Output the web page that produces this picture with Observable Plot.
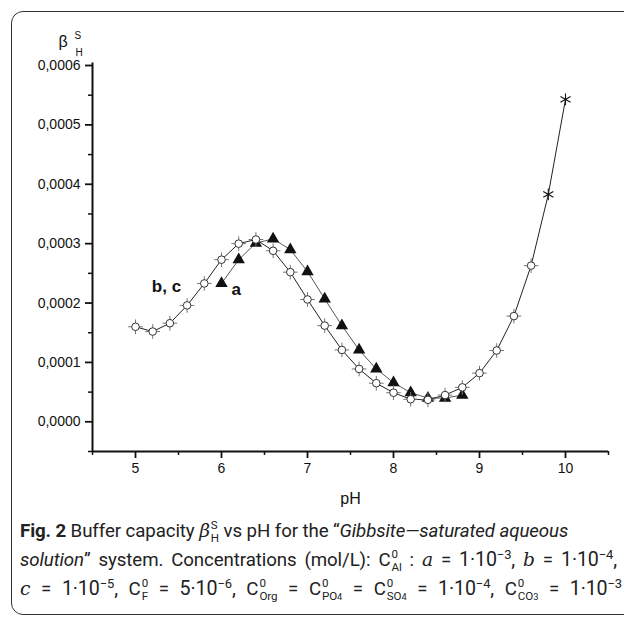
<!DOCTYPE html>
<html>
<head>
<meta charset="utf-8">
<script src="https://cdn.jsdelivr.net/npm/d3@7"></script>
<script src="https://cdn.jsdelivr.net/npm/@observablehq/plot@0.6"></script>
<style>
  html, body { margin: 0; padding: 0; background: #fff; overflow: hidden; }
  #wrap { position: relative; width: 624px; height: 620px; overflow: hidden; }
  #frame { position: absolute; left: 11px; top: 11px; width: 700px; height: 604px;
           border: 1.5px solid #333; border-radius: 12px; box-sizing: border-box; }
  #chart { position: absolute; left: 0; top: 0; }
  #caption { position: absolute; left: 20px; top: 516px; font-family: Roboto, sans-serif;
             font-size: 18.7px; line-height: 29px; color: #222; white-space: nowrap; letter-spacing: -0.1px; }
  #caption > div { height: 29px; }
  #l2 { width: 597px; text-align: justify; text-align-last: justify; white-space: normal; }
  #l3 { width: 602px; text-align: justify; text-align-last: justify; white-space: normal; }
  #caption b { font-weight: bold; }
  .m { font-family: "DejaVu Serif", "Liberation Serif", serif; font-style: italic; }
  .ss { display: inline-block; vertical-align: -0.45em; font-size: 0.62em; text-align: left; text-align-last: left; margin-left: 1px; }
  .ss > span { display: block; line-height: 1.1em; }
  sup { font-size: 0.66em; vertical-align: 0.55em; line-height: 0; }
  .s4 { font-size: 0.8em; display: inline; }
  .nw { white-space: nowrap; }
  .big { font-size: 1.05em; }
</style>
</head>
<body>
<div id="wrap">
  <div id="frame"></div>
  <div id="chart"></div>
  <div id="caption">
    <div id="l1"><b>Fig. 2</b> Buffer capacity <span class="m">β</span><span class="ss"><span>S</span><span>H</span></span> vs pH for the “<i>Gibbsite—saturated aqueous</i></div>
    <div id="l2"><i>solution</i>” system. Concentrations (mol/L): <span class="nw">C<span class="ss"><span>0</span><span>Al</span></span></span> : <span class="m">a</span> = <span class="nw big">1·10<sup>−3</sup>,</span> <span class="m">b</span> = <span class="nw big">1·10<sup>−4</sup>,</span></div>
    <div id="l3"><span class="m">c</span> = <span class="nw big">1·10<sup>−5</sup>,</span> <span class="nw">C<span class="ss"><span>0</span><span>F</span></span></span> = <span class="nw big">5·10<sup>−6</sup>,</span> <span class="nw">C<span class="ss"><span>0</span><span>Org</span></span></span> = <span class="nw">C<span class="ss"><span>0</span><span>PO<span class="s4">4</span></span></span></span> = <span class="nw">C<span class="ss"><span>0</span><span>SO<span class="s4">4</span></span></span></span> = <span class="nw big">1·10<sup>−4</sup>,</span> <span class="nw">C<span class="ss"><span>0</span><span>CO<span class="s4">3</span></span></span></span> = <span class="nw big">1·10<sup>−3</sup></span></div>
  </div>
</div>
<script>
// Series b, c (open circles, asterisks at the end)
const phBC = [5.0, 5.2, 5.4, 5.6, 5.8, 6.0, 6.2, 6.4, 6.6, 6.8, 7.0, 7.2, 7.4, 7.6, 7.8, 8.0, 8.2, 8.4, 8.6, 8.8, 9.0, 9.2, 9.4, 9.6, 9.8, 10.0];
const betaBC = [0.000160, 0.000152, 0.000166, 0.000196, 0.000233, 0.000273, 0.000300, 0.000307, 0.000288, 0.000252,
                0.000206, 0.000162, 0.000121, 0.000089, 0.000065, 0.000049, 0.000038, 0.000037, 0.000045, 0.000058,
                0.000082, 0.000120, 0.000178, 0.000263, 0.000383, 0.000543];
const markerBC = ["circle","circle","circle","circle","circle","circle","circle","circle","circle","circle",
                  "circle","circle","circle","circle","circle","circle","circle","circle","circle","circle",
                  "circle","circle","circle","circle","asterisk","asterisk"];
// Series a (filled triangles)
const phA = [6.0, 6.2, 6.4, 6.6, 6.8, 7.0, 7.2, 7.4, 7.6, 7.8, 8.0, 8.2, 8.4, 8.6, 8.8];
const betaA = [0.000233, 0.000273, 0.000301, 0.000308, 0.000290, 0.000253, 0.000207, 0.000162, 0.000121, 0.000089,
               0.000066, 0.000049, 0.000040, 0.000040, 0.000045];
// Axis ticks
const xTicks = [5, 6, 7, 8, 9, 10];
const xMinorTicks = [4.5, 5.5, 6.5, 7.5, 8.5, 9.5, 10.5];
const yTicks = [0, 0.0001, 0.0002, 0.0003, 0.0004, 0.0005, 0.0006];
const yMinorTicks = [-0.00005, 0.00005, 0.00015, 0.00025, 0.00035, 0.00045, 0.00055];
// Curve labels
const labelText = ["b, c", "a"];
const labelX = [5.36, 6.17];
const labelY = [0.000228, 0.000222];

const bc = phBC.map((x, i) => ({x, y: betaBC[i], m: markerBC[i]}));
const bcCircles = bc.filter(d => d.m === "circle");
const bcStars = bc.filter(d => d.m === "asterisk");
const a = phA.map((x, i) => ({x, y: betaA[i]}));
const labels = labelText.map((t, i) => ({t, x: labelX[i], y: labelY[i]}));
const fmt = d => d.toFixed(4).replace(".", ",");

const xDom = [4.5, 10.5], yDom = [-0.00005, 0.0006];

const chart = Plot.plot({
  width: 624,
  height: 515,
  marginLeft: 92,
  marginRight: 16,
  marginTop: 65,
  marginBottom: 64,
  style: {fontFamily: "'Liberation Sans', Arial, sans-serif", fontSize: "14px", color: "#111", background: "transparent"},
  x: {domain: xDom, axis: null},
  y: {domain: yDom, axis: null},
  marks: [
    // minor ticks
    Plot.axisX({ticks: xMinorTicks, tickSize: 4, tickFormat: () => "", strokeWidth: 1.5, label: null}),
    Plot.axisY({ticks: yMinorTicks, tickSize: 4, tickFormat: () => "", strokeWidth: 1.5, label: null}),
    // major ticks
    Plot.axisX({ticks: xTicks, tickSize: 7, tickPadding: 5, strokeWidth: 1.8, tickFormat: d => String(d), label: null, fontSize: 14}),
    Plot.axisY({ticks: yTicks, tickSize: 7, tickPadding: 5, strokeWidth: 1.8, tickFormat: fmt, label: null, fontSize: 14}),
    // axis lines
    Plot.ruleX([xDom[0]], {y1: yDom[0], y2: 0.000604, stroke: "#111", strokeWidth: 2}),
    Plot.ruleY([yDom[0]], {x1: xDom[0], x2: xDom[1], stroke: "#111", strokeWidth: 2}),
    // axis titles
    Plot.text(["pH"], {frameAnchor: "bottom", dy: 52, fontSize: 16, fill: "#111"}),
    Plot.text(["β"], {frameAnchor: "top-left", dx: -34, dy: -30, fontSize: 16, fill: "#111"}),
    Plot.text(["S"], {frameAnchor: "top-left", dx: -18, dy: -34, fontSize: 10, fill: "#111"}),
    Plot.text(["H"], {frameAnchor: "top-left", dx: -17, dy: -17, fontSize: 10, fill: "#111"}),
    // series lines
    Plot.line(a, {x: "x", y: "y", stroke: "#444", strokeWidth: 0.9}),
    Plot.line(bc, {x: "x", y: "y", stroke: "#222", strokeWidth: 1}),
    // series a markers
    Plot.dot(a, {x: "x", y: "y", symbol: "triangle", r: 4.6, fill: "#111", stroke: "none"}),
    // series b,c markers
    Plot.dot(bcCircles, {x: "x", y: "y", symbol: "plus", r: 4.8, stroke: "#777", strokeWidth: 1}),
    Plot.dot(bcCircles, {x: "x", y: "y", symbol: "circle", r: 3.8, fill: "#fff", stroke: "#333", strokeWidth: 1}),
    Plot.dot(bcStars, {x: "x", y: "y", symbol: "asterisk", r: 5.5, stroke: "#111", strokeWidth: 1.1}),
    // labels
    Plot.text(labels, {x: "x", y: "y", text: "t", fontSize: 17, fontWeight: "bold", fill: "#111"})
  ]
});
document.getElementById("chart").appendChild(chart);
</script>
</body>
</html>
